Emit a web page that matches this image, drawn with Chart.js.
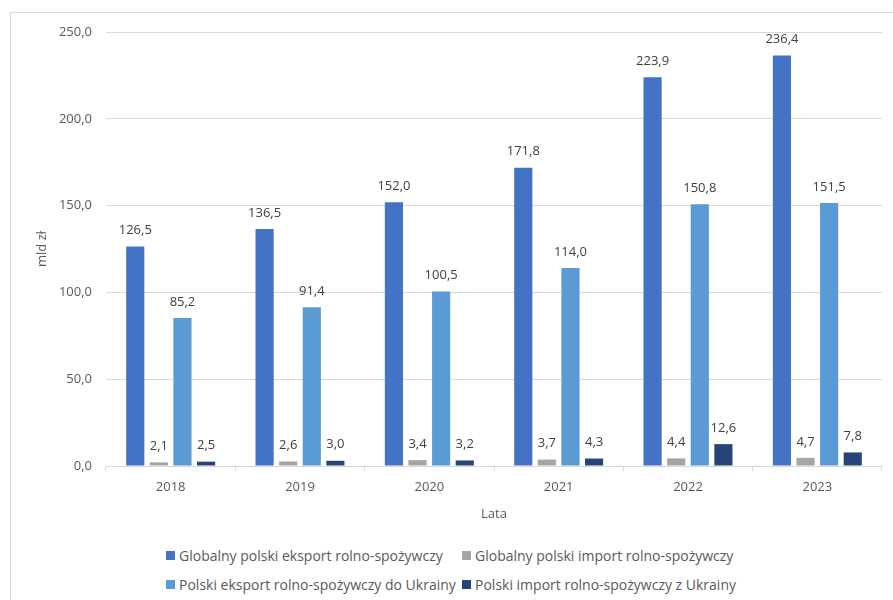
<!DOCTYPE html>
<html>
<head>
<meta charset="utf-8">
<script src="https://cdn.jsdelivr.net/npm/chart.js@4"></script>
<style>
  html, body { margin: 0; padding: 0; background: #fff; overflow: hidden; }
  #page { position: relative; width: 893px; height: 600px; }
  #frame { position: absolute; left: 10px; top: 12px; width: 1000px; height: 1000px;
           border-left: 1px solid #d9d9d9; border-top: 1px solid #d9d9d9; }
  #wrap { position: absolute; left: 0; top: 0; width: 893px; height: 535px; }
  #legend { position: absolute; top: 545px; left: 0; width: 893px;
            font: 14px "Open Sans", sans-serif; color: #595959; }
  #legend .item { position: absolute; white-space: nowrap; display: flex; align-items: center; height: 20px; }
  #legend .box { width: 9px; height: 9px; margin-right: 4px; }
</style>
</head>
<body>
<div id="page">
  <div id="frame"></div>
  <div id="wrap"><canvas id="chart"></canvas></div>
  <div id="legend"></div>
</div>
<script>
const years = ['2018', '2019', '2020', '2021', '2022', '2023'];
const seriesNames = [
  'Globalny polski eksport rolno-spożywczy',
  'Globalny polski import rolno-spożywczy',
  'Polski eksport rolno-spożywczy do Ukrainy',
  'Polski import rolno-spożywczy z Ukrainy'
];
const globalExport = [126.5, 136.5, 152.0, 171.8, 223.9, 236.4];
const globalImport = [2.1, 2.6, 3.4, 3.7, 4.4, 4.7];
const exportUkraine = [85.2, 91.4, 100.5, 114.0, 150.8, 151.5];
const importUkraine = [2.5, 3.0, 3.2, 4.3, 12.6, 7.8];
const colors = ['#4472C4', '#A5A5A5', '#5B9BD5', '#264478'];

const fmt = v => v.toFixed(1).replace('.', ',');

// value labels above each bar
const labelsPlugin = {
  id: 'valueLabels',
  afterDatasetsDraw(chart) {
    const c = chart.ctx;
    c.save();
    c.font = '13px "Open Sans"';
    c.fillStyle = '#404040';
    c.textAlign = 'center';
    c.textBaseline = 'middle';
    chart.data.datasets.forEach((ds, i) => {
      chart.getDatasetMeta(i).data.forEach((bar, j) => {
        c.fillText(fmt(ds.data[j]), bar.x, bar.y - 16);
      });
    });
    c.restore();
  }
};

const chart = new Chart(document.getElementById('chart'), {
  type: 'bar',
  data: {
    labels: years,
    datasets: [
      { label: seriesNames[0], data: globalExport, backgroundColor: colors[0] },
      { label: seriesNames[1], data: globalImport, backgroundColor: colors[1] },
      { label: seriesNames[2], data: exportUkraine, backgroundColor: colors[2] },
      { label: seriesNames[3], data: importUkraine, backgroundColor: colors[3] }
    ]
  },
  options: {
    responsive: true,
    maintainAspectRatio: false,
    animation: false,
    categoryPercentage: 0.73,
    barPercentage: 0.77,
    layout: { padding: { left: 10, right: 11, top: 32, bottom: 7 } },
    plugins: {
      legend: { display: false },
      tooltip: { enabled: false }
    },
    scales: {
      x: {
        grid: { display: true, drawOnChartArea: false, drawTicks: true, tickLength: 5, color: '#d9d9d9' },
        border: { color: '#d9d9d9' },
        ticks: { color: '#595959', font: { family: 'Open Sans', size: 13 }, padding: 8 },
        title: { display: true, text: 'Lata', color: '#595959', font: { family: 'Open Sans', size: 13 }, padding: { top: 4, bottom: 6 } },
        afterFit(scale) { scale.height = 62; }
      },
      y: {
        min: 0,
        max: 250,
        ticks: {
          stepSize: 50,
          color: '#595959',
          font: { family: 'Open Sans', size: 13 },
          padding: 14,
          callback: v => fmt(v)
        },
        grid: { color: '#d9d9d9', drawTicks: false },
        border: { display: false },
        title: { display: true, text: 'mld zł', color: '#595959', font: { family: 'Open Sans', size: 13 }, padding: { top: 24, bottom: 0 } },
        afterFit(scale) { scale.width = 96; }
      }
    }
  },
  plugins: [labelsPlugin]
});

// legend in two aligned columns, built from the chart datasets
const legend = document.getElementById('legend');
const colX = [166, 462];
chart.data.datasets.forEach((ds, i) => {
  const item = document.createElement('div');
  item.className = 'item';
  item.style.left = colX[i % 2] + 'px';
  item.style.top = (Math.floor(i / 2) * 29) + 'px';
  item.innerHTML = `<span class="box" style="background:${ds.backgroundColor}"></span>${ds.label}`;
  legend.appendChild(item);
});
</script>
</body>
</html>
